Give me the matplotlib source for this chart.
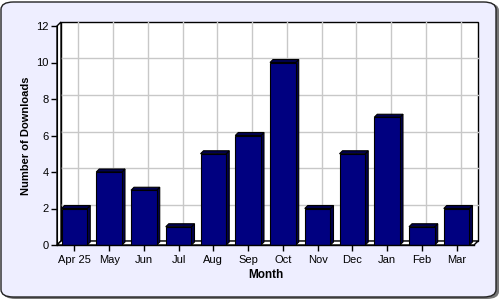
import matplotlib
matplotlib.use("Agg")
import matplotlib.pyplot as plt
from matplotlib.patches import FancyBboxPatch, Polygon, Rectangle

months = ["Apr 25", "May", "Jun", "Jul", "Aug", "Sep", "Oct", "Nov", "Dec", "Jan", "Feb", "Mar"]
downloads = [2, 4, 3, 1, 5, 6, 10, 2, 5, 7, 1, 2]
y_ticks = [0, 2, 4, 6, 8, 10, 12]

plt.rcParams['font.family'] = ['Liberation Sans', 'DejaVu Sans']

W, H = 500, 300
fig = plt.figure(figsize=(5, 3), dpi=100)
fig.patch.set_facecolor("white")

# rounded background panel
shadow = FancyBboxPatch((3 / W, 1 / H), 496 / W, 296 / H,
                        boxstyle="round,pad=0,rounding_size=0.025",
                        transform=fig.transFigure, facecolor="#777777",
                        edgecolor="none", zorder=-3)
fig.patches.append(shadow)
bg = FancyBboxPatch((1 / W, 3 / H), 495 / W, 295 / H,
                    boxstyle="round,pad=0,rounding_size=0.025",
                    transform=fig.transFigure, facecolor="#EEEEFF",
                    edgecolor="#222222", linewidth=1.0, zorder=-2)
fig.patches.append(bg)

# front plot area in pixels
L, R, T, B = 57, 474, 26, 245
ax = fig.add_axes([L / W, (H - B) / H, (R - L) / W, (B - T) / H])
ax.set_zorder(1)
ax.set_facecolor("none")
n = len(months)
ax.set_xlim(-0.5, n - 0.5)
ax.set_ylim(0, 12)
ppx = (R - L) / n
ppy = (B - T) / 12.0
D = 4  # depth in px
dx, dy = D / ppx, D / ppy

x0, x1 = -0.5, n - 0.5
# back wall
ax.add_patch(Rectangle((x0 + dx, dy), x1 - x0, 12, facecolor="white",
                       edgecolor="black", linewidth=1.0, zorder=1, clip_on=False))
# grid lines on back wall
for yv in y_ticks[1:-1]:
    ax.plot([x0 + dx, x1 + dx], [yv + dy, yv + dy], color="#C8C8C8", lw=1.0,
            zorder=2, clip_on=False)
    ax.plot([x0, x0 + dx], [yv, yv + dy], color="#C8C8C8", lw=1.0,
            zorder=2, clip_on=False)
for i in range(n):
    ax.plot([i + dx, i + dx], [dy, 12 + dy], color="#C8C8C8", lw=1.0,
            zorder=2, clip_on=False)
# left wall
ax.add_patch(Polygon([(x0, 0), (x0 + dx, dy), (x0 + dx, 12 + dy), (x0, 12)],
                     closed=True, facecolor="white", edgecolor="black",
                     linewidth=1.0, zorder=2.5, clip_on=False))
# floor
ax.add_patch(Polygon([(x0, 0), (x1, 0), (x1 + dx, dy), (x0 + dx, dy)],
                     closed=True, facecolor="white", edgecolor="black",
                     linewidth=1.0, zorder=3, clip_on=False))

# bars
bw = 0.74
bd = 3
bdx, bdy = bd / ppx, bd / ppy
for i, v in enumerate(downloads):
    a, b = i - bw / 2, i + bw / 2
    ax.add_patch(Polygon([(b, 0), (b + bdx, bdy), (b + bdx, v + bdy), (b, v)],
                         closed=True, facecolor="#000050", edgecolor="black",
                         linewidth=0.8, zorder=4, clip_on=False))
    ax.add_patch(Polygon([(a, v), (a + bdx, v + bdy), (b + bdx, v + bdy), (b, v)],
                         closed=True, facecolor="#000050", edgecolor="black",
                         linewidth=0.8, zorder=4, clip_on=False))
ax.bar(range(n), downloads, width=bw, color="#000080", edgecolor="black",
       linewidth=0.8, zorder=5)

for s in ["top", "right", "bottom"]:
    ax.spines[s].set_visible(False)
ax.spines["left"].set_zorder(6)
ax.set_yticks(y_ticks)
ax.set_xticks(range(n))
ax.set_xticklabels(months)
ax.tick_params(axis="both", direction="out", length=4, width=1, labelsize=8,
               colors="black", pad=2)
ax.tick_params(axis="x", pad=3)
ax.set_ylabel("Number of Downloads", fontsize=8, fontweight="bold", labelpad=4)
ax.set_xlabel("Month", fontsize=8.5, fontweight="bold", labelpad=3)
ax.plot([x0, x1], [0, 0], color="black", lw=1.0, zorder=6, clip_on=False)

fig.savefig("out.png", dpi=100)
